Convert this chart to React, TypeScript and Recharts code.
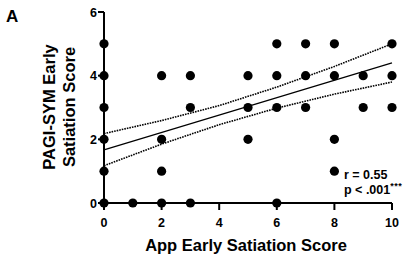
import React from 'react';
import { ScatterChart, Scatter, XAxis, YAxis } from 'recharts';

// App early satiation score (x) vs PAGI-SYM early satiation score (y), one entry per subject
const appScores = [0, 0, 0, 0, 0, 0, 1, 2, 2, 2, 2, 3, 3, 3, 5, 5, 5, 6, 6, 6, 6, 7, 7, 7, 8, 8, 8, 8, 9, 9, 10, 10, 10];
const pagiScores = [0, 1, 2, 3, 4, 5, 0, 0, 1, 2, 4, 0, 3, 4, 2, 3, 4, 0, 3, 4, 5, 3, 4, 5, 1, 2, 4, 5, 3, 4, 3, 4, 5];

// regression fit and 95% band
const fitX = [0, 10];
const fitY = [1.67, 4.4];
const bandX = [0, 2, 4, 6, 8, 10];
const bandUpper = [2.18, 2.59, 3.06, 3.64, 4.29, 5.0];
const bandLower = [1.17, 1.85, 2.46, 2.98, 3.42, 3.8];

const xTicks = [0, 2, 4, 6, 8, 10];
const yTicks = [0, 1, 2, 3, 4, 5, 6];

const points = appScores.map((x, i) => ({ x, y: pagiScores[i] }));
const fitLine = fitX.map((x, i) => ({ x, y: fitY[i] }));
const upperLine = bandX.map((x, i) => ({ x, y: bandUpper[i] }));
const lowerLine = bandX.map((x, i) => ({ x, y: bandLower[i] }));

const FONT = '"Liberation Sans", Arial, sans-serif';
const Y_TICK = 6;
const Y_GAP = 2;

const YTick = (props: any) => {
    const { x, y, payload } = props;
    const axisX = x + Y_TICK + Y_GAP;
    const major = payload.value % 2 === 0;
    return (
        <g>
            <line x1={axisX - (major ? 6 : 3)} x2={axisX} y1={y} y2={y} stroke="#000" strokeWidth={major ? 2 : 1.2} />
            {major && (
                <text x={x + 1} y={y} dy={4.5} textAnchor="end" fontFamily={FONT} fontWeight="bold" fontSize={12.5} fill="#000">
                    {payload.value}
                </text>
            )}
        </g>
    );
};

const Dot = (props: any) => <circle cx={props.cx} cy={props.cy} r={4.6} fill="#000" />;
const NoDot = () => null;

export default function App() {
    return (
        <div style={{ position: 'absolute', left: 0, top: 0, width: 413, height: 257, background: '#fff' }}>
            <ScatterChart width={413} height={257} margin={{ top: 12, right: 21, bottom: 0, left: 0 }}>
                <XAxis
                    type="number"
                    dataKey="x"
                    domain={[0, 10]}
                    ticks={xTicks}
                    height={54}
                    tickSize={7}
                    tickMargin={8}
                    axisLine={{ stroke: '#000', strokeWidth: 2 }}
                    tickLine={{ stroke: '#000', strokeWidth: 2 }}
                    tick={{ fill: '#000', fontFamily: FONT, fontWeight: 'bold', fontSize: 12.5 }}
                    interval={0}
                />
                <YAxis
                    type="number"
                    dataKey="y"
                    domain={[0, 6]}
                    ticks={yTicks}
                    width={104}
                    tickSize={Y_TICK}
                    tickMargin={Y_GAP}
                    axisLine={{ stroke: '#000', strokeWidth: 2 }}
                    tickLine={false}
                    tick={<YTick />}
                    interval={0}
                />
                <Scatter data={upperLine} shape={<NoDot />} line={{ stroke: '#000', strokeWidth: 1.6, strokeDasharray: '1.6 1' }} isAnimationActive={false} />
                <Scatter data={lowerLine} shape={<NoDot />} line={{ stroke: '#000', strokeWidth: 1.6, strokeDasharray: '1.6 1' }} isAnimationActive={false} />
                <Scatter data={fitLine} shape={<NoDot />} line={{ stroke: '#000', strokeWidth: 1.2 }} isAnimationActive={false} />
                <Scatter data={points} shape={<Dot />} isAnimationActive={false} />
            </ScatterChart>
            <svg width={413} height={257} style={{ position: 'absolute', left: 0, top: 0, pointerEvents: 'none' }}>
                <g fontFamily={FONT} fontWeight="bold" fill="#000">
                    <text x={6} y={21.5} fontSize={17}>A</text>
                    <text x={246} y={251} fontSize={16.5} textAnchor="middle">App Early Satiation Score</text>
                    <text transform="translate(55,107) rotate(-90)" fontSize={16.5} textAnchor="middle">PAGI-SYM Early</text>
                    <text transform="translate(75,107) rotate(-90)" fontSize={16.5} textAnchor="middle">Satiation Score</text>
                    <text x={344} y={179} fontSize={12.5}>r = 0.55</text>
                    <text x={344} y={194} fontSize={12.5}>
                        p &lt; .001<tspan fontSize={9} dy={-5} letterSpacing={0.5}>***</tspan>
                    </text>
                </g>
            </svg>
        </div>
    );
}
